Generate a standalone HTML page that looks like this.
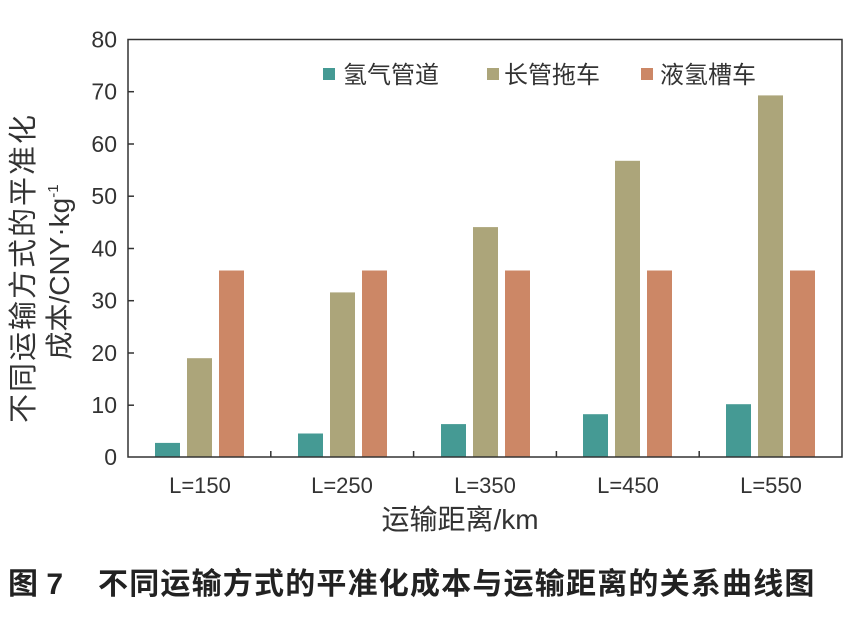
<!DOCTYPE html>
<html><head><meta charset="utf-8"><style>
html,body{margin:0;padding:0;background:#fff;}
svg{display:block;}
text{font-family:"Liberation Sans","Noto Sans CJK SC",sans-serif;fill:#333;}
</style></head><body>
<svg width="865" height="619" viewBox="0 0 865 619" xmlns="http://www.w3.org/2000/svg">
<rect width="865" height="619" fill="#fff"/>
<g>
<rect x="155" y="442.9" width="25" height="14.1" fill="#459a94"/>
<rect x="187" y="358.2" width="25" height="98.8" fill="#aca57a"/>
<rect x="219" y="270.5" width="25" height="186.5" fill="#cc8766"/>
<rect x="298" y="433.5" width="25" height="23.5" fill="#459a94"/>
<rect x="330" y="292.4" width="25" height="164.6" fill="#aca57a"/>
<rect x="362" y="270.5" width="25" height="186.5" fill="#cc8766"/>
<rect x="441" y="424.1" width="25" height="32.9" fill="#459a94"/>
<rect x="473" y="227.1" width="25" height="229.9" fill="#aca57a"/>
<rect x="505" y="270.5" width="25" height="186.5" fill="#cc8766"/>
<rect x="583" y="414.2" width="25" height="42.8" fill="#459a94"/>
<rect x="615" y="160.8" width="25" height="296.2" fill="#aca57a"/>
<rect x="647" y="270.5" width="25" height="186.5" fill="#cc8766"/>
<rect x="726" y="404.2" width="25" height="52.8" fill="#459a94"/>
<rect x="758" y="95.4" width="25" height="361.6" fill="#aca57a"/>
<rect x="790" y="270.5" width="25" height="186.5" fill="#cc8766"/>
</g>
<rect x="128" y="39.5" width="714" height="417.5" fill="none" stroke="#333" stroke-width="1.5"/>
<g stroke="#333" stroke-width="1.5">
<line x1="128" y1="91.7" x2="134" y2="91.7"/>
<line x1="128" y1="144" x2="134" y2="144"/>
<line x1="128" y1="196.2" x2="134" y2="196.2"/>
<line x1="128" y1="248.5" x2="134" y2="248.5"/>
<line x1="128" y1="300.7" x2="134" y2="300.7"/>
<line x1="128" y1="353" x2="134" y2="353"/>
<line x1="128" y1="405.2" x2="134" y2="405.2"/>
<line x1="270.8" y1="457" x2="270.8" y2="451"/>
<line x1="413.6" y1="457" x2="413.6" y2="451"/>
<line x1="556.4" y1="457" x2="556.4" y2="451"/>
<line x1="699.2" y1="457" x2="699.2" y2="451"/>
</g>
<g font-size="23" text-anchor="end">
<text x="117" y="465">0</text>
<text x="117" y="413">10</text>
<text x="117" y="361">20</text>
<text x="117" y="308.5">30</text>
<text x="117" y="256.5">40</text>
<text x="117" y="204">50</text>
<text x="117" y="152">60</text>
<text x="117" y="99.5">70</text>
<text x="117" y="47.5">80</text>
</g>
<g font-size="22" text-anchor="middle">
<text x="200" y="493">L=150</text>
<text x="342" y="493">L=250</text>
<text x="485" y="493">L=350</text>
<text x="628" y="493">L=450</text>
<text x="771" y="493">L=550</text>
</g>
<text x="460" y="529" font-size="28" text-anchor="middle">运输距离/km</text>
<text transform="translate(33,268) rotate(-90)" font-size="29" letter-spacing="2" text-anchor="middle">不同运输方式的平准化</text>
<text transform="translate(69,272) rotate(-90)" font-size="28" text-anchor="middle">成本/CNY·kg<tspan font-size="15" dy="-11">-1</tspan></text>
<rect x="323" y="68" width="12" height="12" fill="#459a94"/>
<text x="343" y="83" font-size="24">氢气管道</text>
<rect x="487" y="68" width="12" height="12" fill="#aca57a"/>
<text x="504" y="83" font-size="24">长管拖车</text>
<rect x="641" y="68" width="12" height="12" fill="#cc8766"/>
<text x="660" y="83" font-size="24">液氢槽车</text>
<text x="8" y="594" font-size="30" font-weight="bold" style="fill:#222">图 7<tspan x="98" letter-spacing="1.2">不同运输方式的平准化成本与运输距离的关系曲线图</tspan></text>
</svg>
</body></html>
